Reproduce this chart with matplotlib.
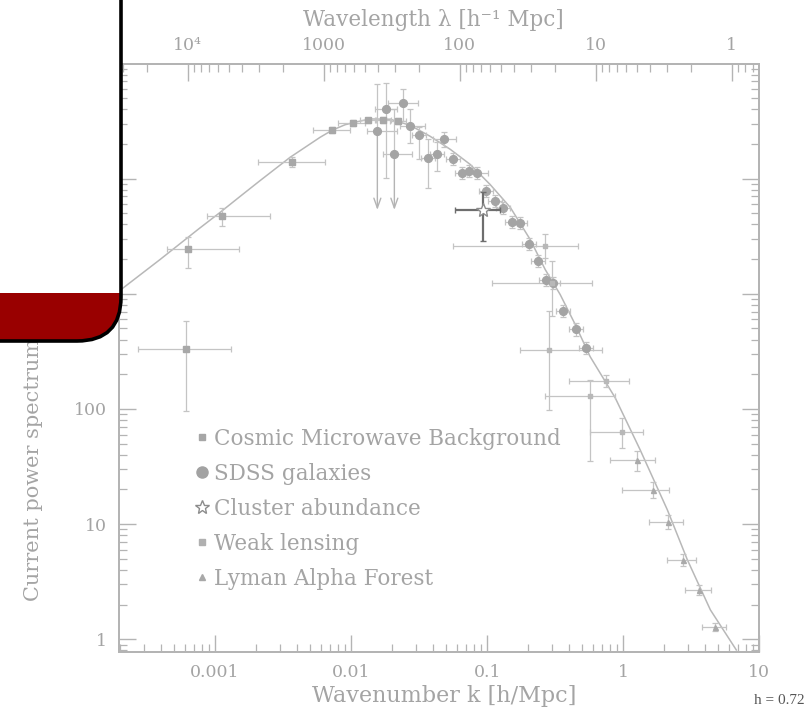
import numpy as np
import matplotlib
matplotlib.use("Agg")
import matplotlib.pyplot as plt
from matplotlib.lines import Line2D
from matplotlib.patches import FancyBboxPatch, Rectangle
from matplotlib.transforms import IdentityTransform

# --- model curve (k in h/Mpc, P in (Mpc/h)^3)
MODEL_K = [1.98e-4, 3.94e-4, 7.50e-4, 1.09e-3, 1.55e-3, 2.14e-3, 3.56e-3, 5.92e-3, 7.24e-3,
           9.04e-3, 0.01107, 0.0138, 0.0194, 0.0272, 0.0381, 0.0535, 0.0750, 0.105, 0.148,
           0.207, 0.267, 0.344, 0.444, 0.571, 0.873, 1.33, 2.11, 2.96, 4.37, 6.78]
MODEL_P = [1060, 1982, 3622, 5093, 7100, 9600, 15310, 22860, 26300,
           29400, 31190, 33000, 32810, 29040, 23330, 17990, 13300, 8913, 5623,
           2965, 1626, 986, 541, 285, 125, 44.3, 13.3, 4.90, 1.80, 0.807]

# --- Cosmic Microwave Background
CMB_K = [6.09e-4, 6.29e-4, 1.12e-3, 3.66e-3, 7.21e-3, 0.01035, 0.01334, 0.01718, 0.0222]
CMB_P = [332, 2428, 4730, 14060, 26480, 30550, 32100, 32100, 31500]
CMB_KLO = [2.72e-4, 4.41e-4, 8.73e-4, 2.07e-3, 5.26e-3, 8.07e-3, 0.01164, 0.0150, 0.0194]
CMB_KHI = [1.30e-3, 1.51e-3, 2.53e-3, 6.44e-3, 9.84e-3, 0.01268, 0.01528, 0.0197, 0.0254]
CMB_PLO = [96.7, 1683, 3870, 12710, 24900, 28900, 30400, 30300, 29700]
CMB_PHI = [578, 3105, 5520, 15530, 28200, 32300, 33900, 34000, 33400]

# --- SDSS galaxies
SDSS_K = [0.01560, 0.01807, 0.02080, 0.02399, 0.02716, 0.03162, 0.03664, 0.04266,
          0.04853, 0.05596, 0.06516, 0.07295, 0.08402, 0.09840, 0.1133, 0.1304,
          0.1520, 0.1750, 0.2015, 0.2346, 0.2718, 0.3072, 0.3637, 0.4510, 0.5343]
SDSS_P = [25950, 40070, 16490, 45810, 28660, 23810, 15230, 16260, 21980, 14720,
          11270, 11640, 11270, 7800, 6380, 5600, 4230, 4085, 2723, 1920, 1312,
          1230, 706, 490, 339]
SDSS_KLO = [0.01303, 0.0150, 0.01730, 0.01871, 0.02291, 0.02808, 0.03254, 0.03789,
            0.04009, 0.04970, 0.05787, 0.06479, 0.07096, 0.08739, 0.1006, 0.1158,
            0.1350, 0.1554, 0.1790, 0.2083, 0.2414, 0.2728, 0.3230, 0.4005, 0.4745]
SDSS_KHI = [0.02168, 0.02168, 0.02791, 0.03113, 0.0350, 0.03561, 0.04126, 0.04804,
            0.0592, 0.06301, 0.07337, 0.08214, 0.1023, 0.1108, 0.1276, 0.1468,
            0.1712, 0.1971, 0.2269, 0.2642, 0.3060, 0.3459, 0.4095, 0.5078, 0.6016]
SDSS_PLO = [5060, 10200, 5060, 31690, 20560, 14720, 8350, 11640, 18970, 13050,
            9990, 10320, 9990, 6920, 5660, 4960, 3750, 3620, 2410, 1700, 1160,
            1090, 626, 434, 300]
SDSS_PHI = [66070, 68390, 40070, 60650, 40070, 27930, 21980, 20690, 25420, 16600,
            12710, 13130, 12710, 8800, 7200, 6320, 4770, 4610, 3070, 2170, 1480,
            1390, 796, 553, 382]
SDSS_UPLIM = [True, False, True] + [False] * 22

# --- Cluster abundance
CL_K, CL_P = [0.0940], [5330]
CL_KLO, CL_KHI = [0.0582], [0.1247]
CL_PLO, CL_PHI = [2865], [7600]

# --- Weak lensing
WL_K = [0.2668, 0.3006, 0.2824, 0.5716, 0.7493, 0.9770]
WL_P = [2594, 1230, 328, 128.8, 176, 62.6]
WL_KLO = [0.0565, 0.1083, 0.175, 0.2668, 0.3963, 0.572]
WL_KHI = [0.469, 0.589, 0.697, 0.873, 1.094, 1.396]
WL_PLO = [2050, 639, 98.6, 35.0, 156, 46.1]
WL_PHI = [3300, 1920, 706, 179.8, 199, 84.0]

# --- Lyman alpha forest
LY_K = [1.262, 1.652, 2.132, 2.748, 3.622, 4.742]
LY_P = [35.7, 19.87, 10.52, 4.90, 2.683, 1.288]
LY_KLO = [0.801, 0.984, 1.535, 2.094, 2.825, 3.793]
LY_KHI = [1.718, 2.153, 2.748, 3.443, 4.416, 5.715]
LY_PLO = [28.7, 16.9, 9.14, 4.34, 2.43, 1.19]
LY_PHI = [42.8, 23.3, 12.1, 5.53, 2.96, 1.39]

K_TICKS = [1e-3, 1e-2, 0.1, 1, 10]
K_LABELS = ["0.001", "0.01", "0.1", "1", "10"]
P_TICKS = [1, 10, 100, 1000, 1e4]
P_LABELS = ["1", "10", "100", "1000", "10⁴"]
LAM_TICKS = [1e4, 1000, 100, 10, 1]
LAM_LABELS = ["10⁴", "1000", "100", "10", "1"]

AX_C = "#b4b4b4"
TXT_C = "#a4a4a4"
ERR_C = "#c4c4c4"
FONT = "DejaVu Serif"
plt.rcParams["font.family"] = FONT

KMIN, KMAX = 1.98e-4, 10.0
PMIN, PMAX = 0.78, 1.0e5


def bars(ax, k, p, klo, khi, plo, phi, **kw):
    k, p = np.array(k), np.array(p)
    xerr = [k - np.array(klo), np.array(khi) - k]
    yerr = [p - np.array(plo), np.array(phi) - p]
    return ax.errorbar(k, p, xerr=xerr, yerr=yerr, linestyle="none", **kw)


fig = plt.figure(figsize=(8.08, 7.21), dpi=100)
ax = fig.add_axes([119.3 / 808, 1 - 651.7 / 721, 640 / 808, (651.7 - 63.5) / 721])
ax.set_xscale("log")
ax.set_yscale("log")
ax.set_xlim(KMIN, KMAX)
ax.set_ylim(PMIN, PMAX)

ax.plot(MODEL_K, MODEL_P, color="#b8b8b8", lw=1.1, zorder=2)

ekw = dict(ecolor=ERR_C, elinewidth=0.9, capsize=2.5, capthick=0.9, zorder=3)
bars(ax, CMB_K, CMB_P, CMB_KLO, CMB_KHI, CMB_PLO, CMB_PHI,
     marker="s", ms=3.8, color="#a8a8a8", **ekw)

# SDSS: upper limits get an arrow instead of a lower bar
sk, sp = np.array(SDSS_K), np.array(SDSS_P)
splo = np.array([lo if not u else p for lo, p, u in zip(SDSS_PLO, SDSS_P, SDSS_UPLIM)])
bars(ax, sk, sp, SDSS_KLO, SDSS_KHI, splo, SDSS_PHI,
     marker="o", ms=5.6, color="#a4a4a4", **ekw)
for k, p, lo, u in zip(SDSS_K, SDSS_P, SDSS_PLO, SDSS_UPLIM):
    if u:
        ax.annotate("", xy=(k, lo), xytext=(k, p),
                    arrowprops=dict(arrowstyle="->,head_length=0.7,head_width=0.25",
                                    color="#b4b4b4", lw=1.0), zorder=3)

bars(ax, WL_K, WL_P, WL_KLO, WL_KHI, WL_PLO, WL_PHI,
     marker="s", ms=3.2, color="#b8b8b8", **ekw)
bars(ax, LY_K, LY_P, LY_KLO, LY_KHI, LY_PLO, LY_PHI,
     marker="^", ms=3.6, color="#aaaaaa", **ekw)
bars(ax, CL_K, CL_P, CL_KLO, CL_KHI, CL_PLO, CL_PHI,
     marker="*", ms=10, mfc="white", mec="#8c8c8c", mew=1.0,
     ecolor="#6e6e6e", elinewidth=1.6, capsize=2.5, capthick=1.6, zorder=4)

# axes cosmetics
for s in ax.spines.values():
    s.set_color(AX_C)
    s.set_linewidth(1.3)
ax.set_xticks(K_TICKS)
ax.set_xticklabels(K_LABELS)
ax.set_yticks(P_TICKS)
ax.set_yticklabels(P_LABELS)
ax.tick_params(which="major", direction="in", length=12, width=1.0, color=AX_C,
               labelcolor=TXT_C, labelsize=12.5, pad=9, right=True, top=False)
ax.tick_params(which="minor", direction="in", length=6, width=0.9, color=AX_C,
               right=True, top=False)

top = ax.twiny()
top.set_xscale("log")
top.set_xlim(2 * np.pi / KMIN, 2 * np.pi / KMAX)
top.set_xticks(LAM_TICKS)
top.set_xticklabels(LAM_LABELS)
top.tick_params(which="major", direction="in", length=12, width=1.0, color=AX_C,
                labelcolor=TXT_C, labelsize=12.5, pad=7)
top.tick_params(which="minor", direction="in", length=6, width=0.9, color=AX_C)
for s in top.spines.values():
    s.set_color(AX_C)
    s.set_linewidth(1.3)

fig.text(444 / 808, 1 - 696 / 721, "Wavenumber k [h/Mpc]", ha="center", va="center",
         fontsize=16, color=TXT_C)
fig.text(433 / 808, 1 - 20 / 721, "Wavelength λ [h⁻¹ Mpc]", ha="center", va="center",
         fontsize=15.5, color=TXT_C)
fig.text(33 / 808, 1 - 601 / 721, "Current power spectrum P(k) [(h⁻¹ Mpc)³]",
         rotation=90, ha="center", va="bottom", fontsize=15, color=TXT_C)
fig.text(805 / 808, 1 - 700 / 721, "h = 0.72", ha="right", va="center",
         fontsize=11, color="#555555", family="Liberation Serif")

handles = [
    Line2D([], [], ls="none", marker="s", ms=5, color="#a6a6a6", label="Cosmic Microwave Background"),
    Line2D([], [], ls="none", marker="o", ms=8, color="#a2a2a2", label="SDSS galaxies"),
    Line2D([], [], ls="none", marker="*", ms=10, mfc="white", mec="#8c8c8c", label="Cluster abundance"),
    Line2D([], [], ls="none", marker="s", ms=5, color="#b0b0b0", label="Weak lensing"),
    Line2D([], [], ls="none", marker="^", ms=5, color="#a8a8a8", label="Lyman Alpha Forest"),
]
ax.legend(handles=handles, loc="upper left", bbox_to_anchor=(196 / 808, 1 - 428 / 721),
          bbox_transform=fig.transFigure, frameon=False, fontsize=15.5,
          labelcolor=TXT_C, handlelength=0.55, handletextpad=0.3, labelspacing=0.6,
          borderpad=0, borderaxespad=0)

# slide decoration over the top-left corner
ident = IdentityTransform()
card = FancyBboxPatch((-80, 380), 201, 420, boxstyle="round,pad=0,rounding_size=44",
                      transform=ident, facecolor="white", edgecolor="none", zorder=20)
fig.add_artist(card)
band = Rectangle((-80, 380), 201, 48, transform=ident, facecolor="#990000",
                 edgecolor="none", zorder=21)
band.set_clip_path(card)
fig.add_artist(band)
rim = FancyBboxPatch((-80, 380), 201, 420, boxstyle="round,pad=0,rounding_size=44",
                     transform=ident, facecolor="none", edgecolor="black", lw=2.6, zorder=22)
fig.add_artist(rim)

fig.savefig("out.png", dpi=100)
